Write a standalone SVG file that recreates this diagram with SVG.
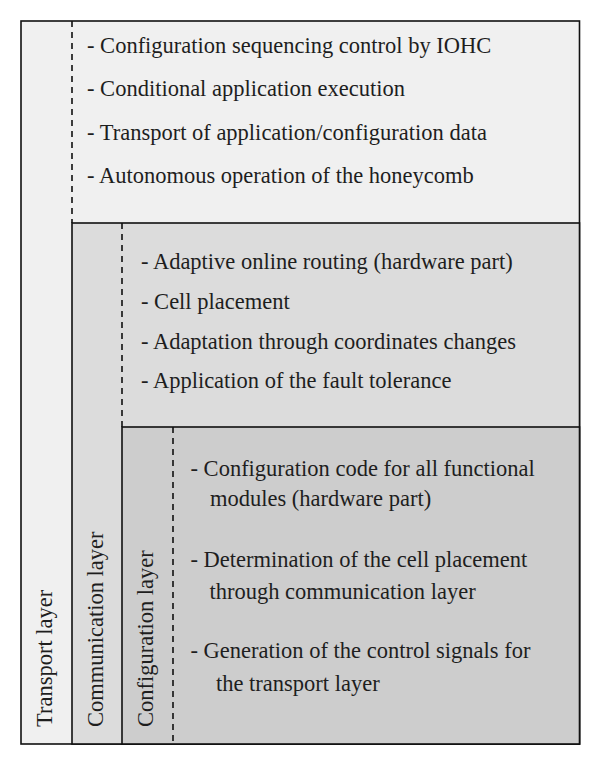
<svg xmlns="http://www.w3.org/2000/svg" width="600" height="765" viewBox="0 0 600 765">
<style>
text{font-family:"Liberation Serif","Times New Roman",serif;font-size:22.5px;fill:#1e1e1e}
.box{stroke:#111;stroke-width:1.6}
.dash{stroke:#111;stroke-width:1.6;stroke-dasharray:6 5;fill:none}
</style>
<rect width="600" height="765" fill="#ffffff"/>
<g id="transport-layer">
<rect class="box" x="21" y="21" width="558.5" height="723" fill="#f0f0f0"/>
<line class="dash" x1="72" y1="21" x2="72" y2="223"/>
<text transform="translate(51.5,727) rotate(-90)">Transport layer</text>
<text x="87" y="53">- Configuration sequencing control by IOHC</text>
<text x="87" y="96">- Conditional application execution</text>
<text x="87" y="140">- Transport of application/configuration data</text>
<text x="87" y="183">- Autonomous operation of the honeycomb</text>
</g>
<g id="communication-layer">
<rect class="box" x="72" y="223" width="507.5" height="521" fill="#dcdcdc"/>
<line class="dash" x1="122" y1="223" x2="122" y2="427"/>
<text transform="translate(102.6,727) rotate(-90)">Communication layer</text>
<text x="141" y="269">- Adaptive online routing (hardware part)</text>
<text x="141" y="309">- Cell placement</text>
<text x="141" y="349">- Adaptation through coordinates changes</text>
<text x="141" y="388">- Application of the fault tolerance</text>
</g>
<g id="configuration-layer">
<rect class="box" x="122" y="427" width="457.5" height="317" fill="#cdcdcd"/>
<line class="dash" x1="173" y1="427" x2="173" y2="744"/>
<text transform="translate(152.6,727) rotate(-90)">Configuration layer</text>
<text x="190.5" y="476">- Configuration code for all functional</text>
<text x="210" y="506">modules (hardware part)</text>
<text x="190.5" y="567">- Determination of the cell placement</text>
<text x="209.5" y="599">through communication layer</text>
<text x="190.5" y="658">- Generation of the control signals for</text>
<text x="216" y="691">the transport layer</text>
</g>
<g id="connectors"/>
</svg>
